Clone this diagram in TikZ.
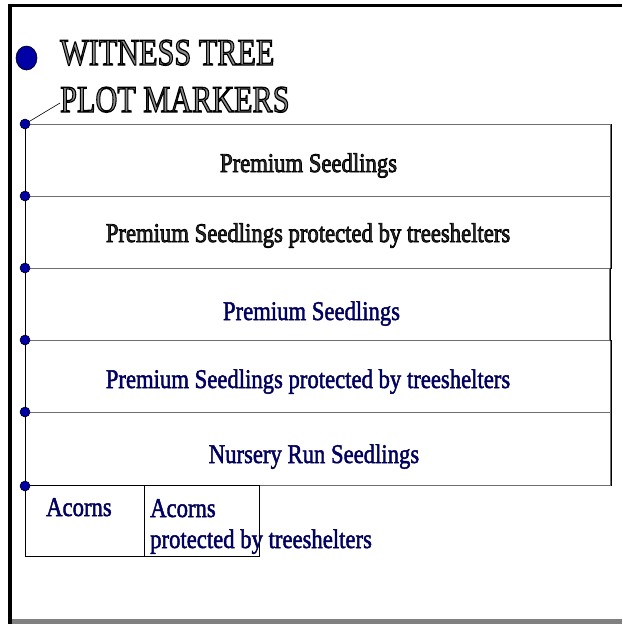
\documentclass[tikz,border=0pt]{standalone}
\usepackage{fontspec}
\setmainfont{Liberation Serif}
\usepackage{graphicx}
\usetikzlibrary{shapes.geometric}
\definecolor{navytext}{RGB}{0,0,110}
\definecolor{dotblue}{RGB}{0,0,165}
\definecolor{rowline}{RGB}{110,110,110}
\definecolor{framegray}{RGB}{128,128,128}
\newcommand\bodyfont{\fontsize{27}{31}\selectfont}
\newcommand\titlefont{\fontsize{37.8}{47}\selectfont}
\newcommand\narrow[1]{\scalebox{0.84}[1]{#1}}
\newcommand\titlenarrow[1]{\scalebox{0.80}[1]{#1}}
% fill+stroke text rendering: #1 line width, #2 stroke rgb, #3 text
\newcommand\strk[3]{\special{pdf:code q 2 Tr #1 w #2 RG}#3\special{pdf:code Q}}
\tikzset{
  rowbox/.style={draw=rowline, line width=1pt, inner sep=0pt, anchor=north west},
  acornbox/.style={draw=black, line width=1pt, inner sep=0pt, anchor=north west, minimum width=#1, minimum height=71pt},
  marker/.style={circle, fill=dotblue, draw=black, line width=0.5pt, inner sep=0pt, minimum size=10pt},
  navytxt/.style={inner sep=0pt, text=navytext, font=\bodyfont},
  embtxt/.style={inner sep=0pt, font=\bodyfont},
}
\begin{document}
\begin{tikzpicture}[x=1pt,y=-1pt]
\useasboundingbox (0,0) rectangle (622,624);
\fill[white] (0,0) rectangle (622,624);
% frame
\draw[line width=3.5pt] (8,5.5) -- (622,5.5);
\draw[line width=4pt] (10,4) -- (10,624);
\draw[framegray, line width=5pt] (12,621.5) -- (622,621.5);
% title
\node[ellipse, minimum width=21pt, minimum height=24pt, inner sep=0pt, fill=dotblue, draw=black, line width=0.6pt] (bigdot) at (26.5,58) {};
\node[anchor=base west, inner sep=0pt, font=\titlefont] (title1) at (60,65) {\titlenarrow{\color{black!45}\strk{1.3}{0 0 0}{WITNESS TREE}}};
\node[anchor=base west, inner sep=0pt, font=\titlefont] (title2) at (60,112) {\titlenarrow{\color{black!45}\strk{1.3}{0 0 0}{PLOT MARKERS}}};
\coordinate (leader) at (60,103);
% rows
\node[rowbox, minimum width=585pt, minimum height=72pt] (r1) at (25,124) {};
\node[rowbox, minimum width=585pt, minimum height=72pt] (r2) at (25,196) {};
\node[rowbox, minimum width=584pt, minimum height=72pt] (r3) at (25,268) {};
\node[rowbox, minimum width=585pt, minimum height=72pt] (r4) at (25,340) {};
\node[rowbox, minimum width=585pt, minimum height=73pt] (r5) at (25,412) {};
\draw[black, line width=0.8pt] (r1.north east) -- (r2.south east);
\draw[black, line width=0.8pt] (r3.north east) -- (r3.south east);
\draw[black, line width=0.8pt] (r4.north east) -- (r5.south east);
% row texts
\node[embtxt, anchor=base] (t1) at (308.5,172) {\narrow{\color{gray!35!black}\strk{0.8}{0 0 0}{Premium Seedlings}}};
\node[embtxt, anchor=base] (t2) at (308,242) {\narrow{\color{gray!35!black}\strk{0.8}{0 0 0}{Premium Seedlings protected by treeshelters}}};
\node[navytxt, anchor=base] (t3) at (311.5,320) {\narrow{\strk{0.5}{0 0 0.3}{Premium Seedlings}}};
\node[navytxt, anchor=base] (t4) at (308,388) {\narrow{\strk{0.5}{0 0 0.3}{Premium Seedlings protected by treeshelters}}};
\node[navytxt, anchor=base] (t5) at (314,463) {\narrow{\strk{0.5}{0 0 0.3}{Nursery Run Seedlings}}};
% acorn boxes
\node[acornbox=119pt] (a1) at (25,485) {};
\node[acornbox=115pt] (a2) at (144,485) {};
\node[navytxt, anchor=base west] (ta1) at (46,516) {\narrow{\strk{0.5}{0 0 0.3}{Acorns}}};
\node[navytxt, anchor=base west] (ta2) at (150,517) {\narrow{\strk{0.5}{0 0 0.3}{Acorns}}};
\node[navytxt, anchor=base west] (ta3) at (150,548) {\narrow{\strk{0.5}{0 0 0.3}{protected by treeshelters}}};
% markers and connectors
\draw[black, line width=0.8pt] (r1.north west) -- (r5.south west);
\draw[black, line width=0.6pt] (r1.north west) -- (leader);
\foreach \n/\a in {d1/r1.north west, d2/r2.north west, d3/r3.north west, d4/r4.north west, d5/r5.north west, d6/r5.south west}
  \node[marker] (\n) at (\a) {};
\end{tikzpicture}
\end{document}
